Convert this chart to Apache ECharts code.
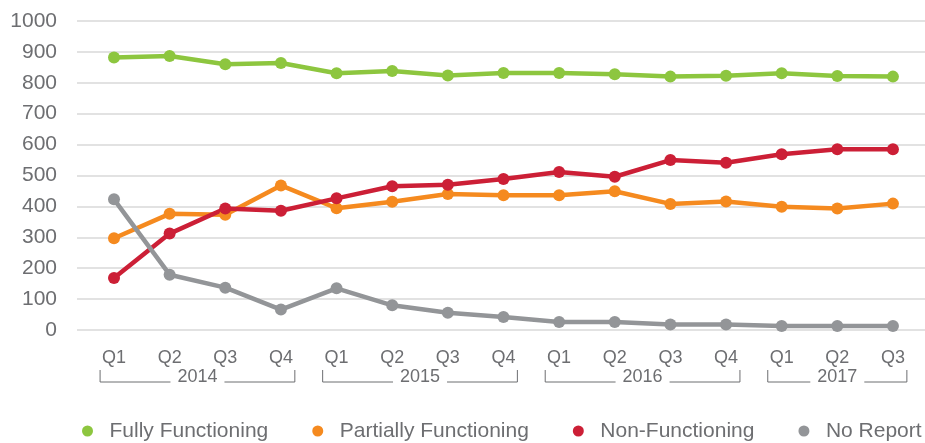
<!DOCTYPE html>
<html>
<head>
<meta charset="utf-8">
<script src="https://cdn.jsdelivr.net/npm/echarts@6/dist/echarts.min.js"></script>
<style>
  html, body { margin: 0; padding: 0; background: #fff; }
  #chart { width: 925px; height: 443px; }
</style>
</head>
<body>
<div id="chart"></div>
<script>
// quarters and years under the x axis
const quarters = ["Q1", "Q2", "Q3", "Q4", "Q1", "Q2", "Q3", "Q4", "Q1", "Q2", "Q3", "Q4", "Q1", "Q2", "Q3"];
const years = ["2014", "2015", "2016", "2017"];
const yearStart = [0, 4, 8, 12];
const yearEnd = [3, 7, 11, 14];

const fullyFunctioning = [882, 887, 860, 864, 831, 838, 824, 832, 832, 828, 820, 823, 831, 822, 820];
const partiallyFunctioning = [297, 376, 373, 468, 394, 415, 440, 436, 436, 449, 408, 416, 399, 393, 409];
const nonFunctioning = [168, 312, 393, 386, 426, 465, 470, 489, 511, 496, 550, 541, 569, 585, 585];
const noReport = [423, 179, 137, 66, 135, 80, 56, 42, 26, 26, 18, 18, 13, 13, 13];

const yTicks = [0, 100, 200, 300, 400, 500, 600, 700, 800, 900, 1000];

const textColor = "#6d6e71";
const font = "'Liberation Sans', sans-serif";

const toPoints = arr => arr.map((v, i) => [i, v]);

const makeSeries = (name, color, data) => ({
  name: name,
  type: "line",
  data: toPoints(data),
  symbol: "circle",
  symbolSize: 12,
  lineStyle: { width: 4.5, color: color },
  itemStyle: { color: color },
  emphasis: { disabled: true },
  animation: false
});

const option = {
  color: ["#8dc63f", "#f58a1f", "#cc1f36", "#939598"],
  grid: {
    left: 77,
    right: 0,
    top: 21,
    bottom: 113
  },
  legend: {
    left: 82,
    top: 419,
    width: 843,
    padding: 0,
    icon: "circle",
    itemWidth: 34,
    itemHeight: 11,
    itemGap: 44,
    textStyle: { color: textColor, fontSize: 21, fontFamily: font, lineHeight: 24 },
    data: ["Fully Functioning", "Partially Functioning", "Non-Functioning", "No Report"]
  },
  xAxis: {
    type: "value",
    min: -0.665,
    max: 14.576,
    axisLine: { show: false },
    axisTick: { show: false },
    splitLine: { show: false },
    axisLabel: {
      customValues: quarters.map((q, i) => i),
      formatter: v => quarters[Math.round(v)],
      color: textColor,
      fontSize: 18,
      fontFamily: font,
      margin: 19
    }
  },
  yAxis: {
    type: "value",
    min: yTicks[0],
    max: yTicks[yTicks.length - 1],
    interval: 100,
    axisLine: { show: false },
    axisTick: { show: false },
    axisLabel: { color: textColor, fontSize: 21, fontFamily: font, margin: 20, formatter: v => String(v) },
    splitLine: { lineStyle: { color: "#d9d9d9", width: 1.5 } }
  },
  series: [
    makeSeries("Fully Functioning", "#8dc63f", fullyFunctioning),
    makeSeries("Partially Functioning", "#f58a1f", partiallyFunctioning),
    makeSeries("Non-Functioning", "#cc1f36", nonFunctioning),
    makeSeries("No Report", "#939598", noReport)
  ]
};

const chart = echarts.init(document.getElementById("chart"), null, { renderer: "canvas" });
chart.setOption(option);

// year brackets, placed from the x axis scale
const px = i => chart.convertToPixel({ xAxisIndex: 0 }, i);
const step = px(1) - px(0);
const yTop = 370, yBottom = 382, yText = 377;
const elements = [];
years.forEach((y, k) => {
  const x0 = px(yearStart[k]) - step * 0.25;
  const x1 = px(yearEnd[k]) + step * 0.25;
  const mid = (x0 + x1) / 2;
  const half = 27;
  const ls = { stroke: textColor, lineWidth: 1 };
  elements.push({ type: "polyline", shape: { points: [[x0, yTop], [x0, yBottom], [mid - half, yBottom]] }, style: ls, silent: true });
  elements.push({ type: "polyline", shape: { points: [[mid + half, yBottom], [x1, yBottom], [x1, yTop]] }, style: ls, silent: true });
  elements.push({
    type: "text",
    x: mid,
    y: yText,
    style: { text: y, fill: textColor, fontSize: 18, fontFamily: font, align: "center", verticalAlign: "middle" },
    silent: true
  });
});
chart.setOption({ graphic: elements });
</script>
</body>
</html>
